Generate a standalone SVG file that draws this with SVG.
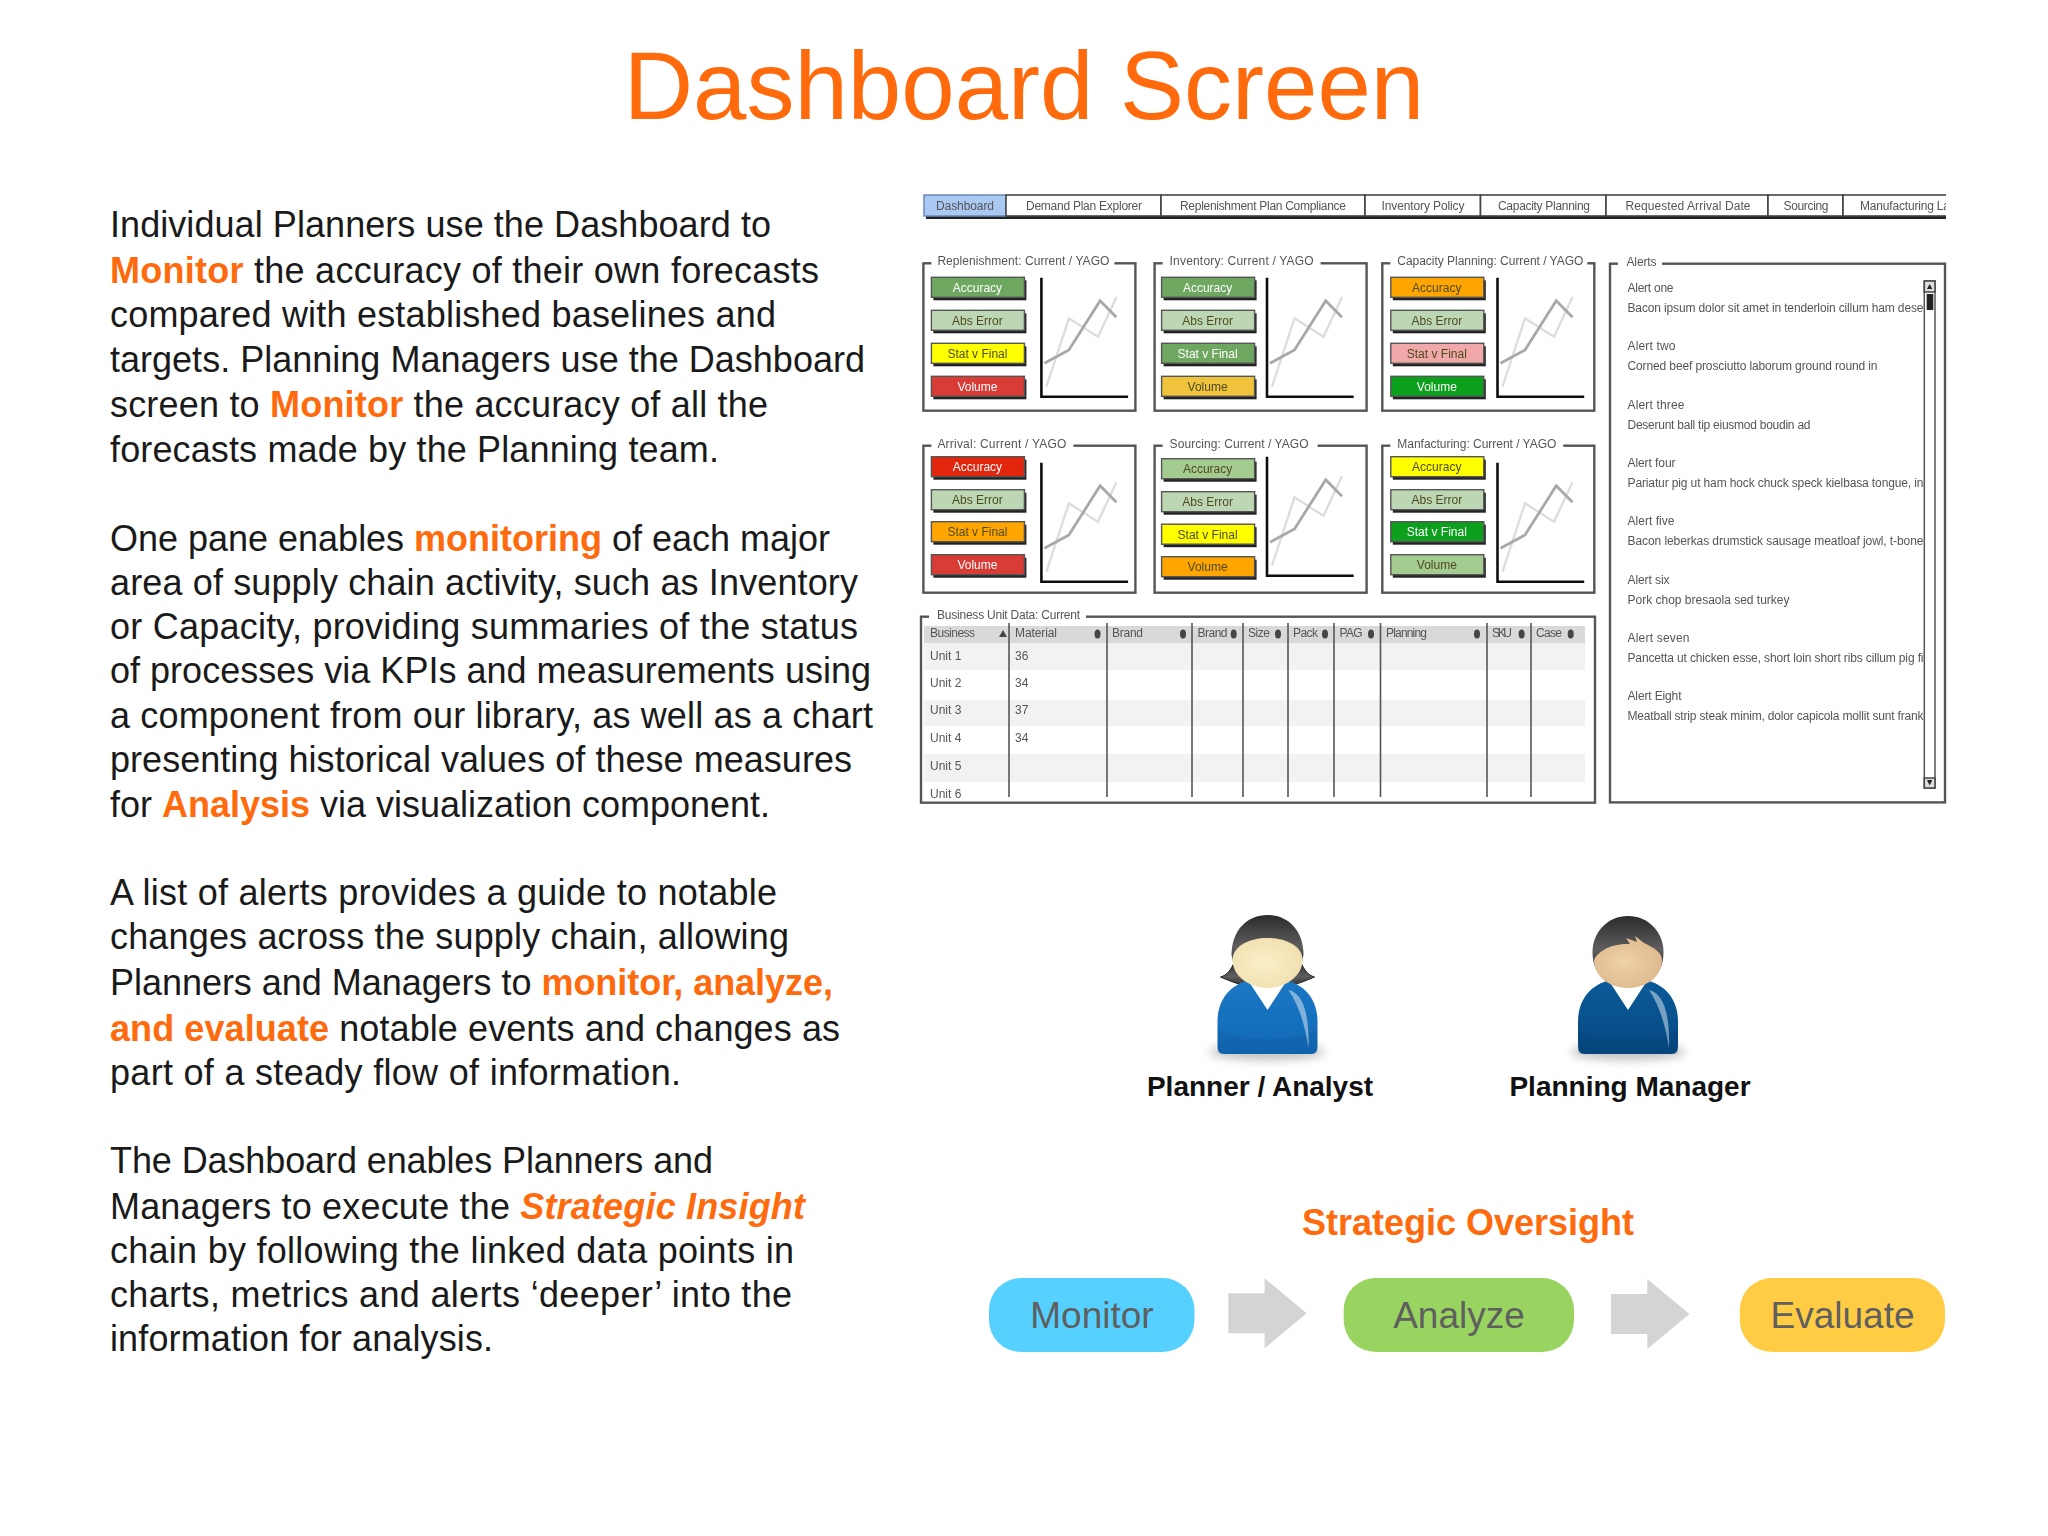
<svg xmlns="http://www.w3.org/2000/svg" xmlns:xlink="http://www.w3.org/1999/xlink" width="2048" height="1536" viewBox="0 0 2048 1536">
<style>
text{font-family:"Liberation Sans",Arial,sans-serif}
.ttl{font-size:96px;fill:#ff6a0d;text-anchor:middle}
.body{font-size:36px;fill:#1a1a1a}
.o{font-weight:700;fill:#ff6a0d}
.who{font-size:28px;font-weight:700;fill:#111;text-anchor:middle}
.so{font-size:36px;font-weight:700;fill:#ff6a0d;text-anchor:middle}
.pl{font-size:37px;fill:#5f5f5f;text-anchor:middle}
.arrow{fill:#d5d3d6}
.w{font-size:12px;fill:#555}
.m{text-anchor:middle}
.fr{fill:#fff;stroke:#555;stroke-width:2.4}
.tab{fill:#fff;stroke:#444;stroke-width:1.6}
.s{fill:#222}
.b{stroke:#555;stroke-width:1.4}
.kd,.kw{font-size:12px;text-anchor:middle}
.kd{fill:#4c4c20}.kw{fill:#fff}
.g{fill:#6ea860}.lg{fill:#bdd7b4}.y{fill:#ffff00}.r{fill:#d93a35}.am{fill:#f0c33c}.or{fill:#ffa500}.pk{fill:#f0a8a8}.sg{fill:#0aa01e}.mg{fill:#a5cc90}.br{fill:#e12510}
.col{stroke:#555;stroke-width:1.6;fill:none}
.axis{fill:none;stroke:#111;stroke-width:2.6}
.d1{fill:none;stroke:#a8a8a8;stroke-width:2.8}
.d2{fill:none;stroke:#ddd;stroke-width:2.4}
.sort{fill:#444}
</style>
<defs>
<filter id="soft" x="-2%" y="-2%" width="104%" height="104%"><feGaussianBlur stdDeviation="0.6"/></filter>
<filter id="blur6" x="-30%" y="-100%" width="160%" height="300%"><feGaussianBlur stdDeviation="5"/></filter>
<clipPath id="tabclip"><rect x="920" y="190" width="1026" height="35"/></clipPath>
<clipPath id="alertclip"><rect x="1620" y="270" width="303" height="500"/></clipPath>
<linearGradient id="hair" x1="0" y1="0" x2="0" y2="1"><stop offset="0" stop-color="#2b2b2b"/><stop offset=".6" stop-color="#5e5e5e"/><stop offset="1" stop-color="#333"/></linearGradient>
<radialGradient id="faceW" cx=".45" cy=".5" r=".6"><stop offset="0" stop-color="#fbeec8"/><stop offset="1" stop-color="#f0dfae"/></radialGradient>
<radialGradient id="faceM" cx=".45" cy=".5" r=".6"><stop offset="0" stop-color="#efd1a8"/><stop offset="1" stop-color="#ddb88c"/></radialGradient>
<linearGradient id="bodyW" x1="0" y1="0" x2="0" y2="1"><stop offset="0" stop-color="#1b78c4"/><stop offset="1" stop-color="#1069b6"/></linearGradient>
<linearGradient id="bodyM" x1="0" y1="0" x2="0" y2="1"><stop offset="0" stop-color="#0b5a98"/><stop offset="1" stop-color="#064a84"/></linearGradient>
<g id="chart"><path class="d2" d="M5,109 27.5,40.6 56.5,59 75,19.6"/><path class="d1" d="M3,85.6 27.5,72.3 58.7,23 75,39.6"/><path class="axis" d="M0,0V119H86.7"/></g>
<path id="shirt" d="M-44,1054Q-50,1054-50,1046L-50,1022C-50,1000-38,985-18,980L18,980C38,985 50,1000 50,1022L50,1046Q50,1054 44,1054Z"/>
<path id="collar" fill="#fff" d="M-19,981 0,1010 19,981Z"/>
<path id="gleam" fill="#fff" fill-opacity=".45" d="M21,990C34,993 42,1010 41,1048C38,1030 34,1010 21,990Z"/>
</defs>

<text class="ttl" x="1024" y="119">Dashboard Screen</text>

<g id="description">
<text class="body" x="110" y="237" textLength="661">Individual Planners use the Dashboard to</text>
<text class="body" x="110" y="283" textLength="709"><tspan class="o">Monitor</tspan> the accuracy of their own forecasts</text>
<text class="body" x="110" y="327" textLength="666">compared with established baselines and</text>
<text class="body" x="110" y="372" textLength="755">targets. Planning Managers use the Dashboard</text>
<text class="body" x="110" y="417" textLength="658">screen to <tspan class="o">Monitor</tspan> the accuracy of all the</text>
<text class="body" x="110" y="462" textLength="609">forecasts made by the Planning team.</text>
<text class="body" x="110" y="551" textLength="720">One pane enables <tspan class="o">monitoring</tspan> of each major</text>
<text class="body" x="110" y="595" textLength="748">area of supply chain activity, such as Inventory</text>
<text class="body" x="110" y="639" textLength="748">or Capacity, providing summaries of the status</text>
<text class="body" x="110" y="683" textLength="761">of processes via KPIs and measurements using</text>
<text class="body" x="110" y="728" textLength="763">a component from our library, as well as a chart</text>
<text class="body" x="110" y="772" textLength="742">presenting historical values of these measures</text>
<text class="body" x="110" y="817" textLength="660">for <tspan class="o">Analysis</tspan> via visualization component.</text>
<text class="body" x="110" y="905" textLength="667">A list of alerts provides a guide to notable</text>
<text class="body" x="110" y="949" textLength="679">changes across the supply chain, allowing</text>
<text class="body" x="110" y="995" textLength="723">Planners and Managers to <tspan class="o">monitor, analyze,</tspan></text>
<text class="body" x="110" y="1041" textLength="730"><tspan class="o">and evaluate</tspan> notable events and changes as</text>
<text class="body" x="110" y="1085" textLength="571">part of a steady flow of information.</text>
<text class="body" x="110" y="1173" textLength="603">The Dashboard enables Planners and</text>
<text class="body" x="110" y="1219" textLength="695">Managers to execute the <tspan class="o" font-style="italic">Strategic Insight</tspan></text>
<text class="body" x="110" y="1263" textLength="684">chain by following the linked data points in</text>
<text class="body" x="110" y="1307" textLength="682">charts, metrics and alerts ‘deeper’ into the</text>
<text class="body" x="110" y="1351" textLength="383">information for analysis.</text>
</g>

<g id="screenshot" filter="url(#soft)">
<g id="tabs" clip-path="url(#tabclip)">
<rect class="s" x="926" y="198" width="1030" height="21"/>
<rect x="924" y="195" width="82" height="21" fill="#a9c8f2" stroke="#6b89b8" stroke-width="1.5"/>
<rect class="tab" x="1006" y="195" width="155" height="21"/>
<rect class="tab" x="1161" y="195" width="204" height="21"/>
<rect class="tab" x="1365" y="195" width="115.500" height="21"/>
<rect class="tab" x="1480.500" y="195" width="125.500" height="21"/>
<rect class="tab" x="1606" y="195" width="162" height="21"/>
<rect class="tab" x="1768" y="195" width="75" height="21"/>
<rect class="tab" x="1843" y="195" width="110" height="21"/>
<text class="w m" x="965" y="210" textLength="58" fill="#334">Dashboard</text>
<text class="w m" x="1084" y="210" textLength="116">Demand Plan Explorer</text>
<text class="w m" x="1263" y="210" textLength="166">Replenishment Plan Compliance</text>
<text class="w m" x="1423" y="210" textLength="83">Inventory Policy</text>
<text class="w m" x="1544" y="210" textLength="92">Capacity Planning</text>
<text class="w m" x="1688" y="210" textLength="125">Requested Arrival Date</text>
<text class="w m" x="1806" y="210" textLength="45">Sourcing</text>
<text class="w" x="1860" y="210" textLength="90">Manufacturing La</text>
</g>

<g id="panel-replenishment" transform="translate(923.400,263.300)">
<rect class="fr" width="212" height="147.400"/>
<rect x="8" y="-8" width="183" height="16" fill="#fff"/>
<text class="w" x="14" y="2" textLength="172">Replenishment: Current / YAGO</text>
<g transform="translate(8,14)"><rect class="s" x="2" y="3" width="93" height="20"/><rect class="b g" width="93" height="20"/><text class="kw" x="46" y="14.500">Accuracy</text></g>
<g transform="translate(8,47)"><rect class="s" x="2" y="3" width="93" height="20"/><rect class="b lg" width="93" height="20"/><text class="kd" x="46" y="14.500">Abs Error</text></g>
<g transform="translate(8,80)"><rect class="s" x="2" y="3" width="93" height="20"/><rect class="b y" width="93" height="20"/><text class="kd" x="46" y="14.500">Stat v Final</text></g>
<g transform="translate(8,113)"><rect class="s" x="2" y="3" width="93" height="20"/><rect class="b r" width="93" height="20"/><text class="kw" x="46" y="14.500">Volume</text></g>
<use href="#chart" x="118" y="14.400"/>
</g>
<g id="panel-inventory" transform="translate(1154.600,263.300)">
<rect class="fr" width="212" height="147.400"/>
<rect x="8" y="-8" width="158" height="16" fill="#fff"/>
<text class="w" x="15" y="2" textLength="144">Inventory: Current / YAGO</text>
<g transform="translate(7,14)"><rect class="s" x="2" y="3" width="93" height="20"/><rect class="b g" width="93" height="20"/><text class="kw" x="46" y="14.500">Accuracy</text></g>
<g transform="translate(7,47)"><rect class="s" x="2" y="3" width="93" height="20"/><rect class="b lg" width="93" height="20"/><text class="kd" x="46" y="14.500">Abs Error</text></g>
<g transform="translate(7,80)"><rect class="s" x="2" y="3" width="93" height="20"/><rect class="b g" width="93" height="20"/><text class="kw" x="46" y="14.500">Stat v Final</text></g>
<g transform="translate(7,113)"><rect class="s" x="2" y="3" width="93" height="20"/><rect class="b am" width="93" height="20"/><text class="kd" x="46" y="14.500">Volume</text></g>
<use href="#chart" x="112.400" y="14.400"/>
</g>
<g id="panel-capacity" transform="translate(1382.300,263.300)">
<rect class="fr" width="212" height="147.400"/>
<rect x="8" y="-8" width="197" height="16" fill="#fff"/>
<text class="w" x="15" y="2" textLength="186">Capacity Planning: Current / YAGO</text>
<g transform="translate(8.500,14)"><rect class="s" x="2" y="3" width="93" height="20"/><rect class="b or" width="93" height="20"/><text class="kd" x="46" y="14.500">Accuracy</text></g>
<g transform="translate(8.500,47)"><rect class="s" x="2" y="3" width="93" height="20"/><rect class="b lg" width="93" height="20"/><text class="kd" x="46" y="14.500">Abs Error</text></g>
<g transform="translate(8.500,80)"><rect class="s" x="2" y="3" width="93" height="20"/><rect class="b pk" width="93" height="20"/><text class="kd" x="46" y="14.500">Stat v Final</text></g>
<g transform="translate(8.500,113)"><rect class="s" x="2" y="3" width="93" height="20"/><rect class="b sg" width="93" height="20"/><text class="kw" x="46" y="14.500">Volume</text></g>
<use href="#chart" x="115.200" y="14.400"/>
</g>
<g id="panel-arrival" transform="translate(923.400,445.700)">
<rect class="fr" width="212" height="147"/>
<rect x="8" y="-8" width="142" height="16" fill="#fff"/>
<text class="w" x="14" y="2" textLength="129">Arrival: Current / YAGO</text>
<g transform="translate(8,11)"><rect class="s" x="2" y="3" width="93" height="20"/><rect class="b br" width="93" height="20"/><text class="kw" x="46" y="14.500">Accuracy</text></g>
<g transform="translate(8,44)"><rect class="s" x="2" y="3" width="93" height="20"/><rect class="b lg" width="93" height="20"/><text class="kd" x="46" y="14.500">Abs Error</text></g>
<g transform="translate(8,76)"><rect class="s" x="2" y="3" width="93" height="20"/><rect class="b or" width="93" height="20"/><text class="kd" x="46" y="14.500">Stat v Final</text></g>
<g transform="translate(8,109)"><rect class="s" x="2" y="3" width="93" height="20"/><rect class="b r" width="93" height="20"/><text class="kw" x="46" y="14.500">Volume</text></g>
<use href="#chart" x="118" y="17"/>
</g>
<g id="panel-sourcing" transform="translate(1154.600,445.700)">
<rect class="fr" width="212" height="147"/>
<rect x="8" y="-8" width="155" height="16" fill="#fff"/>
<text class="w" x="15" y="2" textLength="139">Sourcing: Current / YAGO</text>
<g transform="translate(7,13)"><rect class="s" x="2" y="3" width="93" height="20"/><rect class="b mg" width="93" height="20"/><text class="kd" x="46" y="14.500">Accuracy</text></g>
<g transform="translate(7,46)"><rect class="s" x="2" y="3" width="93" height="20"/><rect class="b lg" width="93" height="20"/><text class="kd" x="46" y="14.500">Abs Error</text></g>
<g transform="translate(7,78.500)"><rect class="s" x="2" y="3" width="93" height="20"/><rect class="b y" width="93" height="20"/><text class="kd" x="46" y="14.500">Stat v Final</text></g>
<g transform="translate(7,111)"><rect class="s" x="2" y="3" width="93" height="20"/><rect class="b or" width="93" height="20"/><text class="kd" x="46" y="14.500">Volume</text></g>
<use href="#chart" x="112.400" y="11"/>
</g>
<g id="panel-manufacturing" transform="translate(1382.300,445.700)">
<rect class="fr" width="212" height="147"/>
<rect x="8" y="-8" width="173" height="16" fill="#fff"/>
<text class="w" x="15" y="2" textLength="159">Manfacturing: Current / YAGO</text>
<g transform="translate(8.500,11)"><rect class="s" x="2" y="3" width="93" height="20"/><rect class="b y" width="93" height="20"/><text class="kd" x="46" y="14.500">Accuracy</text></g>
<g transform="translate(8.500,44)"><rect class="s" x="2" y="3" width="93" height="20"/><rect class="b lg" width="93" height="20"/><text class="kd" x="46" y="14.500">Abs Error</text></g>
<g transform="translate(8.500,76)"><rect class="s" x="2" y="3" width="93" height="20"/><rect class="b sg" width="93" height="20"/><text class="kw" x="46" y="14.500">Stat v Final</text></g>
<g transform="translate(8.500,109)"><rect class="s" x="2" y="3" width="93" height="20"/><rect class="b mg" width="93" height="20"/><text class="kd" x="46" y="14.500">Volume</text></g>
<use href="#chart" x="115.200" y="17"/>
</g>

<g id="panel-business-unit">
<rect class="fr" x="921" y="616.700" width="674" height="186"/>
<rect x="929" y="608" width="157" height="16" fill="#fff"/>
<text class="w" x="937" y="619" textLength="143">Business Unit Data: Current</text>
<rect x="924" y="626" width="661" height="17" fill="#d9d9dc"/>
<rect x="924" y="643" width="661" height="27" fill="#f2f2f4"/>
<rect x="924" y="700" width="661" height="26" fill="#f2f2f4"/>
<rect x="924" y="754" width="661" height="28" fill="#f2f2f4"/>
<path class="col" d="M1009,623V797M1107,623V797M1192,623V797M1243,623V797M1288,623V797M1334,623V797M1380.500,623V797M1487,623V797M1531,623V797"/>
<text class="w" x="930" y="637" textLength="45">Business</text>
<text class="w" x="1015" y="637" textLength="42">Material</text>
<text class="w" x="1112" y="637" textLength="31">Brand</text>
<text class="w" x="1197.500" y="637" textLength="30">Brand</text>
<text class="w" x="1248" y="637" textLength="22">Size</text>
<text class="w" x="1293" y="637" textLength="25">Pack</text>
<text class="w" x="1339.500" y="637" textLength="23">PAG</text>
<text class="w" x="1386" y="637" textLength="41">Planning</text>
<text class="w" x="1492" y="637" textLength="20">SKU</text>
<text class="w" x="1536" y="637" textLength="26">Case</text>
<path class="sort" d="M999,637 1003,630 1007,637Z"/>
<g class="sort"><ellipse cx="1097.500" cy="634" rx="3" ry="4.500"/><ellipse cx="1183" cy="634" rx="3" ry="4.500"/><ellipse cx="1233.700" cy="634" rx="3" ry="4.500"/><ellipse cx="1278" cy="634" rx="3" ry="4.500"/><ellipse cx="1325" cy="634" rx="3" ry="4.500"/><ellipse cx="1371" cy="634" rx="3" ry="4.500"/><ellipse cx="1477" cy="634" rx="3" ry="4.500"/><ellipse cx="1521.600" cy="634" rx="3" ry="4.500"/><ellipse cx="1570.700" cy="634" rx="3" ry="4.500"/></g>
<text class="w" x="930" y="660">Unit 1</text><text class="w" x="1015" y="660">36</text>
<text class="w" x="930" y="687">Unit 2</text><text class="w" x="1015" y="687">34</text>
<text class="w" x="930" y="714">Unit 3</text><text class="w" x="1015" y="714">37</text>
<text class="w" x="930" y="742">Unit 4</text><text class="w" x="1015" y="742">34</text>
<text class="w" x="930" y="770">Unit 5</text>
<text class="w" x="930" y="798">Unit 6</text>
</g>

<g id="panel-alerts">
<rect class="fr" x="1610" y="263.700" width="335" height="538.700"/>
<rect x="1618" y="255" width="44" height="16" fill="#fff"/>
<text class="w" x="1626.500" y="266" textLength="30">Alerts</text>
<g clip-path="url(#alertclip)">
<text class="w" x="1627.500" y="291.500" textLength="46">Alert one</text>
<text class="w" x="1627.500" y="311.500" textLength="296">Bacon ipsum dolor sit amet in tenderloin cillum ham dese</text>
<text class="w" x="1627.500" y="349.500" textLength="48">Alert two</text>
<text class="w" x="1627.500" y="369.500" textLength="250">Corned beef prosciutto laborum ground round in</text>
<text class="w" x="1627.500" y="408.500" textLength="57">Alert three</text>
<text class="w" x="1627.500" y="428.500" textLength="183">Deserunt ball tip eiusmod boudin ad</text>
<text class="w" x="1627.500" y="466.500" textLength="48">Alert four</text>
<text class="w" x="1627.500" y="486.500" textLength="296">Pariatur pig ut ham hock chuck speck kielbasa tongue, in</text>
<text class="w" x="1627.500" y="524.500" textLength="47">Alert five</text>
<text class="w" x="1627.500" y="544.500" textLength="296">Bacon leberkas drumstick sausage meatloaf jowl, t-bone</text>
<text class="w" x="1627.500" y="583.500" textLength="42">Alert six</text>
<text class="w" x="1627.500" y="603.500" textLength="162">Pork chop bresaola sed turkey</text>
<text class="w" x="1627.500" y="641.500" textLength="62">Alert seven</text>
<text class="w" x="1627.500" y="661.500" textLength="296">Pancetta ut chicken esse, short loin short ribs cillum pig fi</text>
<text class="w" x="1627.500" y="699.500" textLength="54">Alert Eight</text>
<text class="w" x="1627.500" y="719.500" textLength="296">Meatball strip steak minim, dolor capicola mollit sunt frank</text>
</g>
<rect x="1924.300" y="281" width="10.700" height="507" fill="#fff" stroke="#555" stroke-width="1.5"/>
<rect x="1924.300" y="281" width="10.700" height="11" fill="#ddd" stroke="#444" stroke-width="1.5"/>
<rect x="1926.700" y="294" width="6.600" height="16" fill="#222"/>
<rect x="1924.300" y="778" width="10.700" height="10" fill="#ddd" stroke="#444" stroke-width="1.5"/>
<path fill="#222" d="M1927,289 1929.700,284 1932.300,289ZM1927,780 1932.300,780 1929.700,785.500Z"/>
</g>
</g>

<g id="planner-analyst">
<ellipse cx="1267" cy="1052" rx="58" ry="8" fill="#999" opacity=".6" filter="url(#blur6)"/>
<g transform="translate(1267.500,0)">
<path fill="url(#hair)" stroke="#222" d="M-33,962C-37,970-40,975-47,977C-40,980-30,984-22,986L22,986C30,984 40,980 47,977C40,975 37,970 33,962Z"/>
<use href="#shirt" fill="url(#bodyW)"/>
<path fill="#000" fill-opacity=".05" d="M-50,1030C-25,1042 25,1042 50,1030L50,1054L-50,1054Z"/>
<use href="#collar"/><use href="#gleam"/>
<path fill="url(#hair)" d="M-36,955C-36,930-20,915 0,915C20,915 36,930 36,955L33,968L-33,968Z"/>
<path fill="url(#faceW)" d="M-35,960C-35,946-18,938 0,938C18,938 35,946 35,960C35,976 18,988 0,988C-18,988-35,976-35,960Z"/>
</g>
</g>
<g id="planning-manager">
<ellipse cx="1628" cy="1052" rx="58" ry="8" fill="#999" opacity=".6" filter="url(#blur6)"/>
<g transform="translate(1628,0)">
<use href="#shirt" fill="url(#bodyM)"/>
<path fill="#000" fill-opacity=".06" d="M-50,1030C-25,1042 25,1042 50,1030L50,1054L-50,1054Z"/>
<use href="#collar"/><use href="#gleam"/>
<path fill="url(#hair)" d="M-35.500,952C-35.500,932-20,916 0,916C20,916 35.500,932 35.500,952C35.500,962 33,968 30,972L-30,972C-33,968-35.500,962-35.500,952Z"/>
<path fill="url(#faceM)" d="M-34,960C-30,950-14,943 2,944L-2,938 9,942 7,936 16,943C26,948 34,952 34,960C34,977 18,988 0,988C-18,988-34,977-34,960Z"/>
</g>
</g>
<text class="who" x="1260" y="1096">Planner / Analyst</text>
<text class="who" x="1630" y="1096">Planning Manager</text>

<text class="so" x="1468" y="1235">Strategic Oversight</text>
<g id="monitor"><rect x="989" y="1278" width="205.500" height="74" rx="32" fill="#55d0ff"/><text class="pl" x="1092" y="1328">Monitor</text></g>
<g id="analyze"><rect x="1343.700" y="1278" width="230.300" height="74" rx="32" fill="#98d45f"/><text class="pl" x="1459" y="1328">Analyze</text></g>
<g id="evaluate"><rect x="1739.800" y="1278" width="205.200" height="74" rx="32" fill="#ffcc44"/><text class="pl" x="1842.500" y="1328">Evaluate</text></g>
<g id="connectors">
<path class="arrow" d="M1228.300,1293.300H1264.600V1278.300L1306.700,1313.300 1264.600,1348.300V1333.300H1228.300Z"/>
<path class="arrow" d="M1611,1294H1647.300V1279L1689.400,1314 1647.300,1349V1334H1611Z"/>
</g>
</svg>
